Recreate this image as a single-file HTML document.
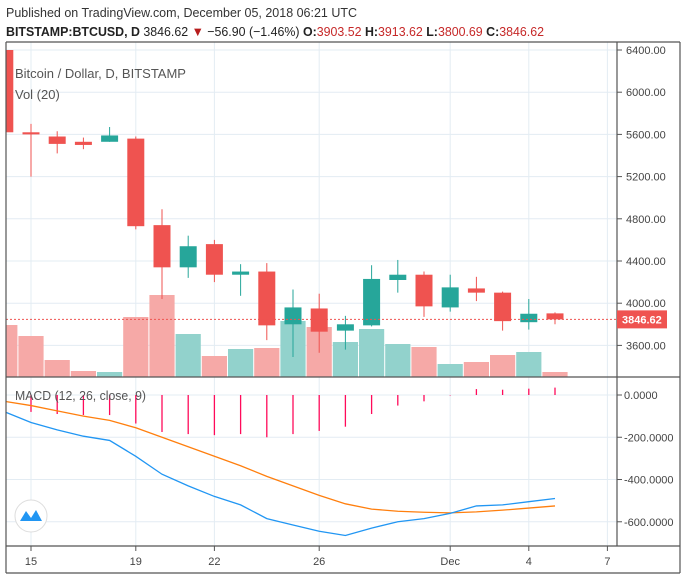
<!DOCTYPE html>
<html><head><meta charset="utf-8"><style>
body{margin:0;background:#fff;width:685px;height:578px;overflow:hidden;font-family:"Liberation Sans",sans-serif}
svg text{font-family:"Liberation Sans",sans-serif}
</style></head><body>
<svg id="c" width="685" height="578" xmlns="http://www.w3.org/2000/svg">
<text x="6" y="17" font-size="13" fill="#333" textLength="351" lengthAdjust="spacingAndGlyphs">Published on TradingView.com, December 05, 2018 06:21 UTC</text>
<text x="6" y="36" font-size="13" font-weight="bold" fill="#222" textLength="538" lengthAdjust="spacingAndGlyphs">BITSTAMP:BTCUSD, D <tspan font-weight="normal">3846.62</tspan> <tspan fill="#b71c1c">▼</tspan> <tspan font-weight="normal">−56.90 (−1.46%)</tspan> O:<tspan font-weight="normal" fill="#c62828">3903.52</tspan> H:<tspan font-weight="normal" fill="#c62828">3913.62</tspan> L:<tspan font-weight="normal" fill="#c62828">3800.69</tspan> C:<tspan font-weight="normal" fill="#c62828">3846.62</tspan></text>
<g id="grid"></g>
<g id="vol"></g>
<g id="candles"></g>
<g id="macd"></g>
<g id="axes"></g>
<text x="15" y="78" font-size="13" fill="#555">Bitcoin / Dollar, D, BITSTAMP</text>
<text x="15" y="99" font-size="13" fill="#555">Vol (20)</text>
<text x="15" y="400" font-size="13" fill="#555" textLength="131" lengthAdjust="spacingAndGlyphs">MACD (12, 26, close, 9)</text>
<g><circle cx="31" cy="516" r="16" fill="#fff" stroke="#ddd"/><path d="M20 521 L26 511 L31 518 L36 510 L42 521 Z" fill="#2196f3"/></g>
</svg>
<script>
const days=[14,15,16,17,18,19,20,21,22,23,24,25,26,27,28,29,30,31,32,33,34,35];
const opens=[6400,5620,5580,5530,5530,5560,4740,4340,4560,4270,4300,3800,3950,3740,3790,4220,4270,3960,4140,4100,3820,3903.52];
const highs=[6450,5700,5630,5570,5670,5580,4890,4640,4600,4370,4380,4130,4090,3880,4360,4410,4300,4270,4250,4110,4040,3913.62];
const lows=[5550,5200,5420,5460,5530,4700,4040,4240,4200,4070,3650,3490,3530,3560,3780,4100,3870,3920,4020,3740,3750,3800.69];
const closes=[5620,5600,5510,5500,5590,4730,4340,4540,4270,4300,3790,3960,3730,3800,4230,4270,3970,4150,4100,3830,3900,3846.62];
const volumes=[52,41,17,6,5,60,82,43,21,28,29,56,50,35,48,33,30,13,15,22,25,5];
const macdLine=[-80,-130,-165,-195,-215,-290,-375,-430,-480,-520,-585,-615,-645,-665,-630,-600,-585,-560,-525,-520,-505,-490];
const signalLine=[-30,-50,-75,-100,-120,-155,-200,-245,-290,-335,-385,-430,-475,-515,-540,-550,-555,-558,-553,-545,-535,-525];
const priceTicks=[6400,6000,5600,5200,4800,4400,4000,3600];
const macdTicks=[0,-200,-400,-600];
const dateTicks=[[15,"15"],[19,"19"],[22,"22"],[26,"26"],[31,"Dec"],[34,"4"],[37,"7"]];
const NS="http://www.w3.org/2000/svg";
const X=d=>31+(d-15)*26.2;
const Y=p=>50+(6400-p)*0.1055;
const M=v=>395-v*0.2113;
const VY=v=>377-v;
function mk(par,tag,at){const e=document.createElementNS(NS,tag);for(const k in at)e.setAttribute(k,at[k]);document.getElementById(par).appendChild(e);return e;}
dateTicks.forEach(t=>{const l=mk('grid','line',{x1:X(t[0]),x2:X(t[0]),y1:42,y2:546,stroke:'#e3ecf3'});

});
priceTicks.forEach(p=>{const l=mk('grid','line',{x1:6,x2:617,y1:Y(p),y2:Y(p),stroke:'#e3ecf3'});

});
macdTicks.forEach(v=>{const l=mk('grid','line',{x1:6,x2:617,y1:M(v),y2:M(v),stroke:'#e3ecf3'});

});
days.forEach((d,i)=>{const up=closes[i]>=opens[i];const r=mk('vol','rect',{x:X(d)-12.6,y:VY(volumes[i]),width:25.2,height:volumes[i],fill:up?'#92d2cc':'#f6a9a7'});

});
days.forEach((d,i)=>{const up=closes[i]>=opens[i];const col=up?'#26a69a':'#ef5350';const x=X(d);
const w=mk('candles','line',{x1:x,x2:x,y1:Y(highs[i]),y2:Y(lows[i]),stroke:col,'stroke-width':1});


const t=Math.min(Y(opens[i]),Y(closes[i]));const h=Math.max(2,Math.abs(Y(opens[i])-Y(closes[i])));
const b=mk('candles','rect',{x:x-8.5,y:t,width:17,height:h,fill:col});

});
mk('candles','rect',{x:0,y:42,width:6,height:340,fill:'#fff'});
const lp=mk('candles','line',{x1:6,x2:617,y1:Y(3846.62),y2:Y(3846.62),stroke:'#ef5350','stroke-dasharray':'2,2'});


days.forEach((d,i)=>{const v=macdLine[i]-signalLine[i];const l=mk('macd','line',{x1:X(d),x2:X(d),y1:M(0),y2:M(v),stroke:'#ff0a5a','stroke-width':1.3});

});
const sp=mk('macd','polyline',{points:days.map((d,i)=>X(d)+','+M(signalLine[i])).join(' '),fill:'none',stroke:'#ff7f0e','stroke-width':1.3});


const mp=mk('macd','polyline',{points:days.map((d,i)=>X(d)+','+M(macdLine[i])).join(' '),fill:'none',stroke:'#2196f3','stroke-width':1.3});


mk('macd','rect',{x:0,y:377,width:6,height:170,fill:'#fff'});
const fr=[[6,42,6,573],[6,42,680,42],[617,42,617,546],[680,42,680,573],[6,377,680,377],[6,546,680,546],[6,573,680,573]];
fr.forEach(f=>{const l=mk('axes','line',{x1:f[0],y1:f[1],x2:f[2],y2:f[3],stroke:'#555','stroke-width':1.2});

});
priceTicks.forEach(p=>{mk('axes','line',{x1:617,x2:622,y1:Y(p),y2:Y(p),stroke:'#555'});
const t=mk('axes','text',{x:626,y:Y(p)+4,'font-size':11,fill:'#444'});t.textContent=p.toFixed(2);

});
macdTicks.forEach(v=>{mk('axes','line',{x1:617,x2:622,y1:M(v),y2:M(v),stroke:'#555'});
const t=mk('axes','text',{x:624,y:M(v)+4,'font-size':11,fill:'#444'});t.textContent=(v===0?' 0':'-'+Math.abs(v))+'.0000';

});
dateTicks.forEach(dt=>{mk('axes','line',{x1:X(dt[0]),x2:X(dt[0]),y1:546,y2:551,stroke:'#555'});
const t=mk('axes','text',{x:X(dt[0]),y:565,'font-size':11,fill:'#444','text-anchor':'middle'});t.textContent=dt[1];

});
const lb=mk('axes','rect',{x:617,y:Y(3846.62)-9,width:50,height:18,fill:'#ef5350'});


const lt=mk('axes','text',{x:622,y:Y(3846.62)+4,'font-size':11,fill:'#fff','font-weight':'bold'});lt.textContent='3846.62';


</script>
</body></html>
